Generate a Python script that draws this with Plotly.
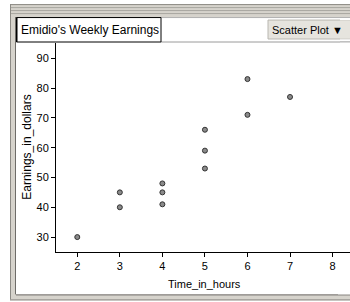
import plotly.graph_objects as go

# Data
hours = [2, 3, 3, 4, 4, 4, 5, 5, 5, 6, 6, 7]
earnings = [30, 40, 45, 41, 45, 48, 53, 59, 66, 71, 83, 77]
x_ticks = [2, 3, 4, 5, 6, 7, 8]
y_ticks = [30, 40, 50, 60, 70, 80, 90]
title_text = "Emidio's Weekly Earnings"
menu_text = "Scatter Plot \u25BC"
x_title = "Time_in_hours"
y_title = "Earnings_in_dollars"

W, H = 350, 302
L, R, T, B = 56, 350, 43, 252.5
XE = 362  # extend frame shapes past the right edge

def px(x):
    return (x - L) / (R - L)

def py(y):
    return (B - y) / (B - T)

FONT = "Liberation Sans, Arial, sans-serif"

fig = go.Figure()
fig.add_trace(go.Scatter(
    x=hours, y=earnings, mode="markers",
    marker=dict(size=5, color="#8a8a8a", line=dict(color="#333333", width=1)),
    hoverinfo="x+y", showlegend=False,
))

shapes = []
def rect(x0, y0, x1, y1, fill=None, line=None, lw=1, layer="below"):
    shapes.append(dict(type="rect", xref="paper", yref="paper",
                       x0=px(x0), x1=px(x1), y0=py(y1), y1=py(y0),
                       fillcolor=fill if fill else "rgba(0,0,0,0)",
                       line=dict(color=line if line else "rgba(0,0,0,0)",
                                 width=lw if line else 0),
                       layer=layer))
def hline(x0, x1, y, color, lw=1, layer="below"):
    shapes.append(dict(type="line", xref="paper", yref="paper",
                       x0=px(x0), x1=px(x1), y0=py(y), y1=py(y),
                       line=dict(color=color, width=lw), layer=layer))
def vline(x, y0, y1, color, lw=1):
    shapes.append(dict(type="line", xref="paper", yref="paper",
                       x0=px(x), x1=px(x), y0=py(y0), y1=py(y1),
                       line=dict(color=color, width=lw), layer="below"))

# Window frame
rect(10, 4, XE, 301, fill="#d6d3cc")
rect(16, 17, XE, 295, fill="#ffffff")
for yy in (7.5, 10.5, 13.5):
    hline(11, XE, yy, "#a8a6a0")
hline(10, XE, 4.5, "#8c8a85")
vline(10.5, 4, 300, "#8c8a85")
vline(15.5, 17, 295, "#6e6c68")
hline(10, XE, 300.5, "#8c8a85")
hline(16, XE, 295.5, "#6e6c68")
# title box
hline(161, XE, 42, "#9a9a9a")
hline(161, XE, 17.5, "#b0b0b0")
rect(16.5, 17.5, 161, 42, line="#000000", lw=1)
vline(17, 17, 42, "#000000", 1)
# dropdown
rect(268, 20, XE, 39, fill="#e6e4de", line="#b8b6b0")

# cover the right-hand strip so the white panel reaches the edge
rect(340, 18, XE, 20, fill="#ffffff", layer="above")
rect(340, 39.5, XE, 41.5, fill="#ffffff", layer="above")
rect(340, 20.5, XE, 38.5, fill="#e6e4de", layer="above")
hline(340, XE, 42, "#9a9a9a", layer="above")
rect(340, 42.5, XE, 251.5, fill="#ffffff", layer="above")
rect(338, 257, XE, 295, fill="#ffffff", layer="above")

annotations = [
    dict(text=title_text, xref="paper", yref="paper", x=px(19), y=py(30),
         xanchor="left", yanchor="middle", showarrow=False,
         font=dict(family=FONT, size=12, color="#000000")),
    dict(text=menu_text, xref="paper", yref="paper", x=px(270), y=py(30),
         xanchor="left", yanchor="middle", showarrow=False,
         font=dict(family=FONT, size=11, color="#000000")),
    dict(text=x_title, xref="paper", yref="paper", x=px(204), y=py(285),
         xanchor="center", yanchor="middle", showarrow=False,
         font=dict(family=FONT, size=11, color="#000000")),
    dict(text=y_title, xref="paper", yref="paper", x=px(27), y=py(148),
         xanchor="center", yanchor="middle", showarrow=False, textangle=-90,
         font=dict(family=FONT, size=12, color="#000000")),
]

axis_common = dict(showgrid=False, zeroline=False, showline=True,
                   linecolor="#000000", linewidth=1, ticks="outside",
                   ticklen=4, tickcolor="#000000", tickwidth=1,
                   tickfont=dict(family=FONT, size=11, color="#000000"))

fig.update_layout(
    width=W, height=H,
    margin=dict(l=L, r=W - R, t=T, b=H - B),
    paper_bgcolor="#ffffff", plot_bgcolor="rgba(0,0,0,0)",
    xaxis=dict(range=[1.5, 1.5 + (R - L) / 42.55], tickvals=x_ticks, **axis_common),
    yaxis=dict(range=[25, 95.1], tickvals=y_ticks, **axis_common),
    shapes=shapes, annotations=annotations,
)

fig.write_html(
    "out.html", config={"displayModeBar": False},
    post_script=("document.head.insertAdjacentHTML('beforeend',"
                 "'<style>html,body{margin:0;padding:0;overflow:hidden;}</style>');"))
